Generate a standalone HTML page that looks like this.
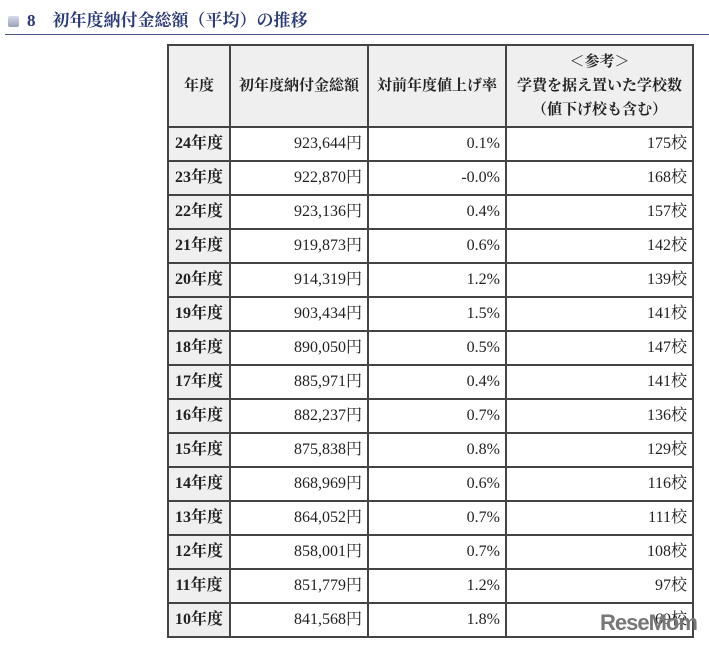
<!DOCTYPE html>
<html><head><meta charset="utf-8"><style>
body{margin:0;width:709px;height:647px;background:#fff;font-family:"Liberation Serif","Noto Serif CJK SC",serif;position:relative;overflow:hidden}
.t{position:absolute;left:8px;top:6px;font-size:17px;font-weight:bold;color:#2b3a78;white-space:nowrap}
.sq{display:inline-block;width:11px;height:11px;border-radius:2px;background:linear-gradient(#d8dbe8,#9aa0b8);vertical-align:-1px;margin-right:8px}
.ln{position:absolute;left:5px;right:0;top:34px;height:1px;background:#4a5588}
table{position:absolute;left:167px;top:44px;border-collapse:collapse;table-layout:fixed;width:525px;font-size:16px;color:#222}
td,th{border:2px solid #444;padding:0 5px;overflow:hidden;white-space:nowrap;vertical-align:middle}
td{line-height:20px}
tr{height:34px}
tr.h{height:82px}
th{background:#efefef;font-weight:bold;line-height:24px;font-size:15px}
td{text-align:right}
td.y{background:#efefef;text-align:center;font-weight:bold;padding:0 2px}
</style></head><body>
<div class="t"><span class="sq"></span>8　初年度納付金総額（平均）の推移</div>
<div class="ln"></div>
<table>
<colgroup><col style="width:62px"><col style="width:138px"><col style="width:138px"><col style="width:187px"></colgroup>
<tr class="h"><th>年度</th><th>初年度納付金総額</th><th>対前年度値上げ率</th><th>＜参考＞<br>学費を据え置いた学校数<br>（値下げ校も含む）</th></tr>
<tr><td class="y">24年度</td><td>923,644円</td><td>0.1%</td><td>175校</td></tr>
<tr><td class="y">23年度</td><td>922,870円</td><td>-0.0%</td><td>168校</td></tr>
<tr><td class="y">22年度</td><td>923,136円</td><td>0.4%</td><td>157校</td></tr>
<tr><td class="y">21年度</td><td>919,873円</td><td>0.6%</td><td>142校</td></tr>
<tr><td class="y">20年度</td><td>914,319円</td><td>1.2%</td><td>139校</td></tr>
<tr><td class="y">19年度</td><td>903,434円</td><td>1.5%</td><td>141校</td></tr>
<tr><td class="y">18年度</td><td>890,050円</td><td>0.5%</td><td>147校</td></tr>
<tr><td class="y">17年度</td><td>885,971円</td><td>0.4%</td><td>141校</td></tr>
<tr><td class="y">16年度</td><td>882,237円</td><td>0.7%</td><td>136校</td></tr>
<tr><td class="y">15年度</td><td>875,838円</td><td>0.8%</td><td>129校</td></tr>
<tr><td class="y">14年度</td><td>868,969円</td><td>0.6%</td><td>116校</td></tr>
<tr><td class="y">13年度</td><td>864,052円</td><td>0.7%</td><td>111校</td></tr>
<tr><td class="y">12年度</td><td>858,001円</td><td>0.7%</td><td>108校</td></tr>
<tr><td class="y">11年度</td><td>851,779円</td><td>1.2%</td><td>97校</td></tr>
<tr><td class="y">10年度</td><td>841,568円</td><td>1.8%</td><td>69校</td></tr>
</table>
<div style="position:absolute;left:600px;top:610px;font-family:'Liberation Sans',sans-serif;font-weight:bold;font-size:22px;color:#777;letter-spacing:-1px">ReseMom</div>
</body></html>
